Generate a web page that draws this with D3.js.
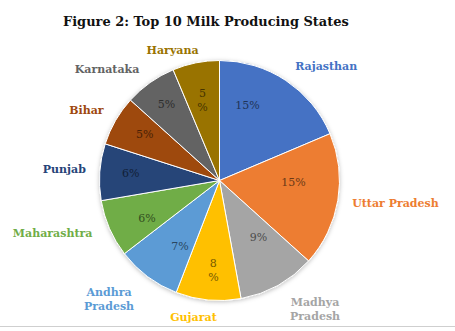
<!DOCTYPE html>
<html>
<head>
<meta charset="utf-8">
<script src="https://cdn.jsdelivr.net/npm/d3@7"></script>
<style>
  html, body { margin: 0; padding: 0; background: #fff; }
  svg { display: block; }
</style>
</head>
<body>
<script>
// ---- data ----
const states = ["Rajasthan", "Uttar Pradesh", "Madhya Pradesh", "Gujarat", "Andhra Pradesh",
                "Maharashtra", "Punjab", "Bihar", "Karnataka", "Haryana"];
// slice sizes (estimated production, million tonnes)
const production = [29.8, 28.9, 16.7, 14.0, 13.9, 12.4, 12.2, 10.8, 11.2, 10.1];
// share of national production shown on labels (%)
const sharePct = [15, 15, 9, 8, 7, 6, 6, 5, 5, 5];
const colors = ["#4472C4", "#ED7D31", "#A5A5A5", "#FFC000", "#5B9BD5",
                "#70AD47", "#264478", "#9E480E", "#636363", "#997300"];
const title = "Figure 2: Top 10 Milk Producing States";

// ---- layout ----
const W = 455, H = 331;
const cx = 219.5, cy = 180.5, R = 120;
const twoLineNames = new Set(["Andhra Pradesh", "Madhya Pradesh"]);
const twoLinePct = new Set(["Gujarat", "Haryana"]);
// label nudges (px) applied after automatic placement
const pctNudge = [[-14,-12],[-1,-11],[2,-10],[1,14],[6,5],[-3,7],[-13,-2],[-9,-9],[-9,-15],[-2,-6]];
const nameNudge = [[20,-4],[9,0],[22,6],[-12,4],[-20,6],[-15,-1],[-8,-2],[-9,-4],[-21,-3],[-17,0]];

const svg = d3.select("body").append("svg").attr("width", W).attr("height", H);

const defs = svg.append("defs");
const f = defs.append("filter").attr("id", "shadow").attr("x", "-20%").attr("y", "-20%")
  .attr("width", "140%").attr("height", "140%");
f.append("feDropShadow").attr("dx", 0).attr("dy", 1).attr("stdDeviation", 2)
  .attr("flood-color", "#000").attr("flood-opacity", 0.25);

// title
const t = svg.append("text")
  .attr("x", 63).attr("y", 26)
  .attr("font-family", "'DejaVu Serif', serif")
  .attr("font-weight", "bold")
  .attr("font-size", 15)
  .attr("fill", "#111")
  .text(title);
const tw = t.node().getComputedTextLength();
t.attr("font-size", 15 * 286 / tw);

const data = states.map((s, i) => ({ state: s, value: production[i], pct: sharePct[i], color: colors[i], i }));

const pie = d3.pie().value(d => d.value).sort(null);
const arcs = pie(data);
const arc = d3.arc().innerRadius(0).outerRadius(R);

const g = svg.append("g").attr("transform", `translate(${cx},${cy})`);

g.append("g").attr("filter", "url(#shadow)")
  .selectAll("path").data(arcs).join("path")
  .attr("d", arc)
  .attr("fill", d => d.data.color)
  .attr("stroke", "#fff")
  .attr("stroke-width", 1);

// percent labels
const labelArc = d3.arc().innerRadius(76).outerRadius(76);
arcs.forEach((a, i) => {
  const [x, y] = labelArc.centroid(a);
  const nx = x + pctNudge[i][0], ny = y + pctNudge[i][1];
  const lines = twoLinePct.has(a.data.state) ? [String(a.data.pct), "%"] : [a.data.pct + "%"];
  const txt = g.append("text")
    .attr("text-anchor", "middle")
    .attr("font-family", "'DejaVu Serif', serif")
    .attr("font-size", 11)
    .attr("fill", d3.color(a.data.color).darker(2.2));
  const lh = 14;
  lines.forEach((l, k) => {
    txt.append("tspan").attr("x", nx)
      .attr("y", ny + 4 + (k - (lines.length - 1) / 2) * lh)
      .text(l);
  });
});

// category labels outside
arcs.forEach((a, i) => {
  const mid = (a.startAngle + a.endAngle) / 2;
  const rr = R + 6;
  const px = Math.sin(mid) * rr, py = -Math.cos(mid) * rr;
  const lines = twoLineNames.has(a.data.state) ? a.data.state.split(" ") : [a.data.state];
  const txt = g.append("text")
    .attr("text-anchor", "middle")
    .attr("font-family", "'DejaVu Serif', serif")
    .attr("font-weight", "bold")
    .attr("font-size", 11)
    .attr("fill", a.data.color);
  const lh = 14;
  lines.forEach(l => txt.append("tspan").text(l));
  const widths = [];
  txt.selectAll("tspan").each(function() { widths.push(this.getComputedTextLength()); });
  const w = d3.max(widths), h = lines.length * lh;
  const bx = px + Math.sin(mid) * w / 2 + nameNudge[i][0];
  const by = py - Math.cos(mid) * h / 2 + nameNudge[i][1];
  txt.selectAll("tspan").each(function(_, k) {
    d3.select(this).attr("x", bx).attr("y", by + 4 + (k - (lines.length - 1) / 2) * lh);
  });
});

// bottom rule
svg.append("line").attr("x1", 0).attr("x2", W).attr("y1", 326.5).attr("y2", 326.5)
  .attr("stroke", "#cfcfcf").attr("stroke-width", 1);
</script>
</body>
</html>
